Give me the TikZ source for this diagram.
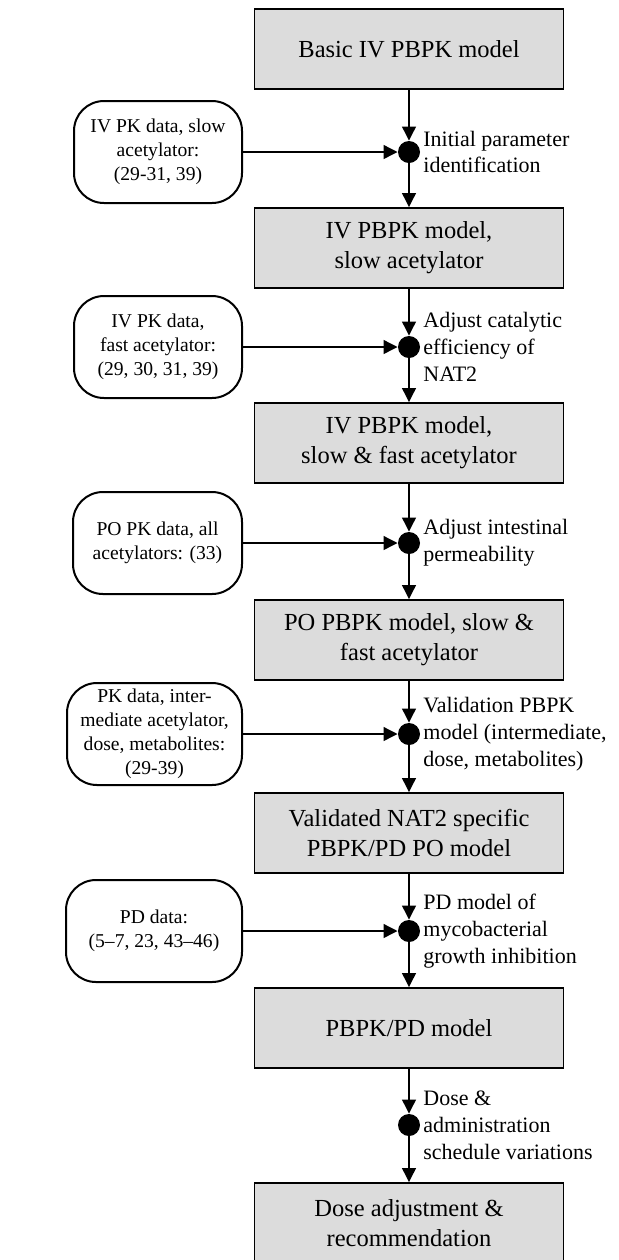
\documentclass[tikz,border=0pt]{standalone}
\usepackage{fontspec}
\setmainfont{Liberation Serif}
\usetikzlibrary{arrows.meta}
\definecolor{boxgray}{RGB}{220,220,220}
\tikzset{
  mainbox/.style={draw, line width=0.9pt, fill=boxgray, minimum width=154.5pt, minimum height=40pt, align=center, inner sep=0pt, font=\fontsize{12.25}{15}\selectfont},
  databox/.style={draw, line width=1pt, rounded corners=15pt, minimum height=51pt, align=center, inner sep=0pt, font=\fontsize{9.8}{12}\selectfont},
  junction/.style={circle, fill=black, minimum size=11pt, inner sep=0pt},
  steplabel/.style={anchor=west, align=left, inner sep=0pt, font=\fontsize{11}{13.4}\selectfont},
  flow/.style={line width=1.15pt, -{Triangle[length=7pt,width=6.8pt]}},
}
\begin{document}
\begin{tikzpicture}[x=0.5pt, y=-0.5pt]
\useasboundingbox (0,0) rectangle (618,1260);
% main boxes
\node[mainbox] (b1) at (409,49)   {Basic IV PBPK model};
\node[mainbox] (b2) at (409,248)  {IV PBPK model,\\slow acetylator};
\node[mainbox] (b3) at (409,443)  {IV PBPK model,\\slow \& fast acetylator};
\node[mainbox] (b4) at (409,640)  {PO PBPK model, slow \&\\fast acetylator};
\node[mainbox] (b5) at (409,833)  {Validated NAT2 specific\\PBPK/PD PO model};
\node[mainbox] (b6) at (409,1028) {PBPK/PD model};
\node[mainbox] (b7) at (409,1223) {Dose adjustment \&\\recommendation};
% junctions
\node[junction] (d1) at (409,152)  {};
\node[junction] (d2) at (409,347)  {};
\node[junction] (d3) at (409,543)  {};
\node[junction] (d4) at (409,734)  {};
\node[junction] (d5) at (409,931)  {};
\node[junction] (d6) at (409,1125) {};
% step labels
\node[steplabel] (s1) at (423,152)  {Initial parameter\\identification};
\node[steplabel] (s2) at (423,347)  {Adjust catalytic\\efficiency of\\NAT2};
\node[steplabel] (s3) at (423,543)  {Adjust intestinal\\permeability};
\node[steplabel] (s4) at (423,734)  {Validation PBPK\\model (intermediate,\\dose, metabolites)};
\node[steplabel] (s5) at (423,931)  {PD model of\\mycobacterial\\growth inhibition};
\node[steplabel] (s6) at (423,1125) {Dose \&\\administration\\schedule variations};
% data boxes
\node[databox, minimum width=84pt] (l1) at (158,152) {IV PK data, slow\\acetylator:\\(29-31, 39)};
\node[databox, minimum width=84pt] (l2) at (158,347) {IV PK data,\\fast acetylator:\\(29, 30, 31, 39)};
\node[databox, minimum width=84.5pt] (l3) at (157.5,543) {PO PK data, all\\acetylators: (33)};
\node[databox, minimum width=87.5pt] (l4) at (154.5,734) {PK data, inter-\\mediate acetylator,\\dose, metabolites:\\(29-39)};
\node[databox, minimum width=88pt] (l5) at (154,931) {PD data:\\(5–7, 23, 43–46)};
% connectors
\foreach \i/\j in {1/1,2/2,3/3,4/4,5/5,6/6} {
  \draw[flow] (b\i) -- (d\j);
}
\foreach \i/\j in {2/1,3/2,4/3,5/4,6/5,7/6} {
  \draw[flow] (d\j) -- (b\i);
}
\foreach \i in {1,...,5} {
  \draw[flow] (l\i) -- (d\i);
}
\end{tikzpicture}
\end{document}
